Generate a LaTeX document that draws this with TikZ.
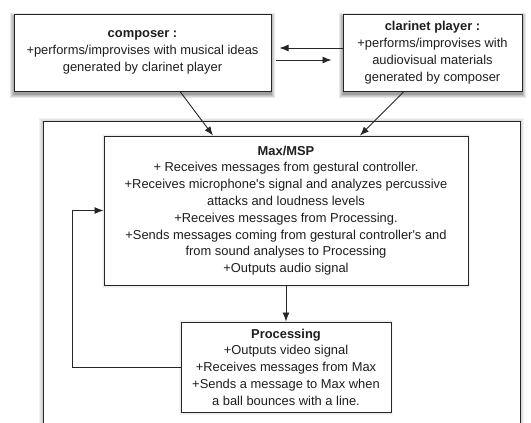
\documentclass[tikz,border=0pt]{standalone}
\usepackage{fontspec}
\setmainfont{Liberation Sans}
\usetikzlibrary{arrows.meta,calc}
\definecolor{linegray}{HTML}{262626}
\definecolor{txtgray}{HTML}{1E1E1E}
\pgfdeclarelayer{bottom}
\pgfdeclarelayer{background}
\pgfsetlayers{bottom,background,main}
\tikzset{
  box/.style={draw=linegray, line width=1pt, fill=white, align=center, text=txtgray,
    font=\fontsize{12.9}{16.8}\selectfont, inner sep=0pt},
  conn/.style={draw=linegray, line width=0.9pt, -{Latex[length=9pt,width=7pt]}},
  plain/.style={draw=linegray, line width=0.9pt}
}
% soft shadow: #1 node, #2 yshift, #3 opacity per layer, #4 number of layers
\newcommand{\softshadow}[4]{%
  \foreach \i in {1,...,#4}{%
    \fill[black, opacity=#3] ([xshift=-\i*0.8pt+0.8pt, yshift=#2+\i*0.8pt-0.8pt]#1.north west)
      rectangle ([xshift=\i*0.8pt-0.8pt, yshift=#2-\i*0.8pt+0.8pt]#1.south east);
  }}
\begin{document}
\begin{tikzpicture}[x=1pt,y=-1pt]
\useasboundingbox (0,0) rectangle (531,423);
\node[box, minimum width=257pt, minimum height=77pt] (composer) at (142.5,52.5)
  {\textbf{composer :}\\+performs/improvises with musical ideas\\generated by clarinet player};
\node[box, minimum width=179pt, minimum height=77pt] (clarinet) at (432.5,52.5)
  {\textbf{clarinet player :}\\+performs/improvises with\\audiovisual materials\\generated by composer};
\node[box, minimum width=364pt, minimum height=149pt] (max) at (286,210.5)
  {\textbf{Max/MSP}\\+ Receives messages from gestural controller.\\+Receives microphone\textquotesingle s signal and analyzes percussive\\attacks and loudness levels\\+Receives messages from Processing.\\+Sends messages coming from gestural controller\textquotesingle s and\\from sound analyses to Processing\\+Outputs audio signal};
\node[box, minimum width=210pt, minimum height=90pt] (proc) at (286,367)
  {\textbf{Processing}\\+Outputs video signal\\+Receives messages from Max\\+Sends a message to Max when\\a ball bounces with a line.};
\coordinate (outerNW) at (43,121);
\coordinate (outerSE) at (520,450);
\begin{pgfonlayer}{bottom}
  \begin{scope}
    \clip (0,0) rectangle (531,423);
    \foreach \i in {1,...,4}{%
      \fill[black, opacity=0.05] ([xshift=-\i*0.9pt, yshift=\i*0.9pt-1pt]outerNW) rectangle ([xshift=\i*0.9pt, yshift=-\i*0.9pt]outerSE);
    }
    \draw[plain, fill=white] (outerNW) rectangle (outerSE);
  \end{scope}
\end{pgfonlayer}
\begin{pgfonlayer}{background}
  \softshadow{composer}{-3pt}{0.09}{5}
  \softshadow{clarinet}{-3pt}{0.09}{5}
  \softshadow{max}{-0.5pt}{0.04}{3}
  \softshadow{proc}{-0.5pt}{0.04}{3}
\end{pgfonlayer}
\draw[conn] ([yshift=4.5pt]clarinet.west) -- ([xshift=8pt,yshift=4.5pt]composer.east);
\draw[conn] ([xshift=4pt,yshift=-7.5pt]composer.east) -- ([xshift=-11pt,yshift=-7.5pt]clarinet.west);
\draw[conn] ([xshift=37.5pt]composer.south) -- ([xshift=-73pt]max.north);
\draw[conn] ([xshift=-28.5pt]clarinet.south) -- ([xshift=74pt]max.north);
\draw[conn] (max.south) -- (proc.north);
\draw[conn] (proc.west) -- ++(-108,0) |- (max.west);
\end{tikzpicture}
\end{document}
